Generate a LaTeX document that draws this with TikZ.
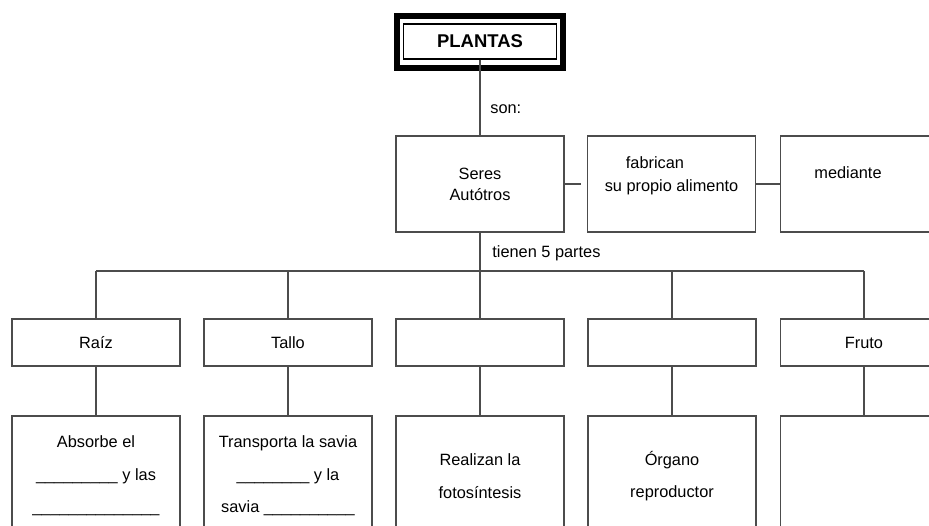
\documentclass[tikz,border=0pt]{standalone}
\usepackage{fontspec}
\setmainfont{Liberation Sans}
\tikzset{
  line/.style={draw=black!70, line width=0.6pt},
  titlebox/.style={draw, line width=0.7pt, minimum width=3.06cm, minimum height=0.7cm, inner sep=0pt, font=\fontsize{10.5}{12}\selectfont\bfseries},
  mainbox/.style={line, minimum width=3.36cm, minimum height=1.92cm, inner sep=0pt, align=center, font=\fontsize{9.3}{12.1}\selectfont},
  partbox/.style={line, minimum width=3.36cm, minimum height=0.94cm, inner sep=0pt, font=\fontsize{9.3}{11}\selectfont},
  descbox/.style={line, minimum width=3.36cm, minimum height=2.4cm, inner sep=0pt, align=center, font=\fontsize{9.3}{18.6}\selectfont},
  txt/.style={inner sep=0pt, font=\fontsize{9.3}{11}\selectfont}
}

\begin{document}
\begin{tikzpicture}[x=0.02cm, y=-0.02cm]
    \useasboundingbox (0,0) rectangle (929,525);
    \clip (0,0) rectangle (929,525);
    \node[titlebox] (plantas) at (480,41.5) {PLANTAS};
    \draw[line width=0.12cm] ([shift={(-5.5,-7.7)}]plantas.north west) rectangle ([shift={(5.5,8)}]plantas.south east);
    \node[txt, anchor=base west] (son) at (490,113) {son:};
    \node[mainbox] (seres) at (480,184) {Seres\\Autótros};
    \node[mainbox] (fabrican) at (671.5,184) {};
    \node[mainbox] (mediante) at (864,184) {};
    \node[txt, anchor=base] (fabtxt) at (655,168) {fabrican};
    \node[txt, anchor=base] (alimtxt) at (671.5,191) {su propio alimento};
    \node[txt, anchor=base] (medtxt) at (848,178) {mediante};
    \node[txt, anchor=base west] (partes) at (492,257) {tienen 5 partes};
    \coordinate (hub) at (480,271);
    \node[partbox] (raiz) at (96,342.5) {Raíz};
    \node[partbox] (tallo) at (288,342.5) {Tallo};
    \node[partbox] (hoja) at (480,342.5) {};
    \node[partbox] (flor) at (672,342.5) {};
    \node[partbox] (fruto) at (864,342.5) {Fruto};
    \node[descbox] (draiz) at (96,476) {Absorbe el\\\_\_\_\_\_\_\_\_\_ y las\\\_\_\_\_\_\_\_\_\_\_\_\_\_\_};
    \node[descbox] (dtallo) at (288,476) {Transporta la savia\\\_\_\_\_\_\_\_\_ y la\\savia \_\_\_\_\_\_\_\_\_\_};
    \node[descbox] (dhoja) at (480,476) {Realizan la\\fotosíntesis};
    \node[descbox] (dflor) at (672,476) {Órgano\\reproductor};
    \node[descbox] (dfruto) at (864,476) {};
    \draw[line] (plantas.south) -- (seres.north);
    \draw[line, shorten >=0.12cm] (seres) -- (fabrican);
    \draw[line] (fabrican) -- (mediante);
    \draw[line] (seres) -- (hub);
    \draw[line] (raiz.north |- hub) -- (fruto.north |- hub);
    \foreach \p in {raiz,tallo,hoja,flor,fruto} {
      \draw[line] (\p.north |- hub) -- (\p);
      \draw[line] (\p) -- (d\p);
    }
\end{tikzpicture}
\end{document}
